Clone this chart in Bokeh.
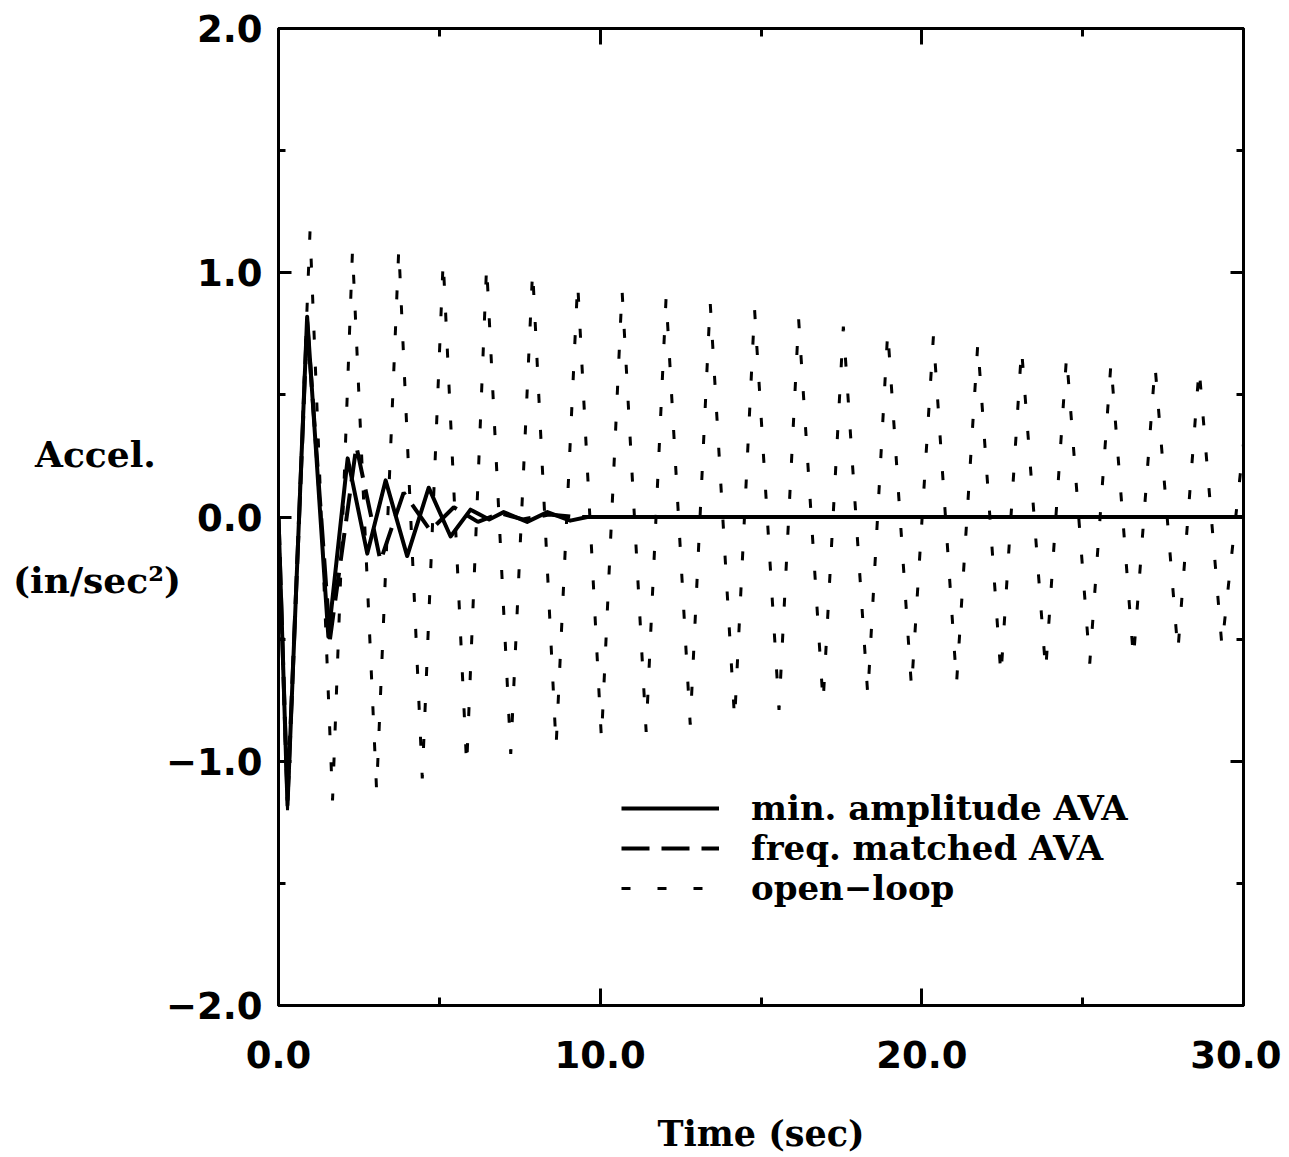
from bokeh.plotting import figure
from bokeh.models import Range1d, LinearAxis, FixedTicker, Legend, LegendItem
from bokeh.embed import file_html
from bokeh.resources import INLINE

# ---------------- data ----------------
# open-loop response: successive troughs / peaks
ol_t = [0.0, 0.28, 0.98, 1.68, 2.30, 3.05, 3.74, 4.47, 5.12, 5.85, 6.47, 7.22, 7.90,
        8.63, 9.30, 10.04, 10.68, 11.43, 12.05, 12.80, 13.42, 14.18, 14.80, 15.56,
        16.17, 16.93, 17.56, 18.32, 18.94, 19.68, 20.36, 21.08, 21.74, 22.46, 23.10,
        23.85, 24.50, 25.22, 25.88, 26.58, 27.25, 27.96, 28.62, 29.33, 30.0]
ol_v = [0.0, -1.20, 1.17, -1.16, 1.09, -1.12, 1.10, -1.07, 1.05, -1.02, 1.03, -0.97, 1.01,
        -0.94, 0.96, -0.91, 0.93, -0.88, 0.90, -0.85, 0.88, -0.83, 0.85, -0.79,
        0.81, -0.76, 0.78, -0.73, 0.76, -0.70, 0.74, -0.68, 0.71, -0.65, 0.69,
        -0.63, 0.66, -0.60, 0.63, -0.58, 0.62, -0.55, 0.61, -0.53, 0.30]

# min. amplitude AVA
ma_t = [0.0, 0.28, 0.89, 1.55, 2.15, 2.76, 3.33, 4.00, 4.67, 5.35, 5.97, 6.55, 7.00,
        7.73, 8.36, 9.07, 9.60, 30.0]
ma_v = [0.0, -1.18, 0.82, -0.49, 0.24, -0.15, 0.15, -0.16, 0.12, -0.08, 0.03, -0.01, 0.02,
        -0.02, 0.02, -0.015, 0.0, 0.0]

# freq. matched AVA
fm_t = [0.0, 0.28, 0.89, 1.60, 2.42, 3.17, 3.89, 4.72, 5.45, 6.20, 6.90, 7.60, 8.40,
        9.20, 10.0, 30.0]
fm_v = [0.0, -1.16, 0.80, -0.50, 0.29, -0.18, 0.10, -0.055, 0.04, -0.02, 0.015, -0.01, 0.01,
        0.0, 0.0, 0.0]

x_major = [0, 10, 20, 30]
x_minor = [5, 15, 25]
x_labels = ["0.0", "10.0", "20.0", "30.0"]
y_major = [-2, -1, 0, 1, 2]
y_minor = [-1.5, -0.5, 0.5, 1.5]
y_labels = ["\u22122.0", "\u22121.0", "0.0", "1.0", "2.0"]

series_names = ["min. amplitude AVA", "freq. matched AVA", "open\u2212loop"]
x_title = "Time (sec)"
y_title = "Accel.\u00a0\u00a0\n(in/sec\u00b2)"

# ---------------- figure ----------------
p = figure(width=1281, height=1157, output_backend="svg", toolbar_location=None,
           x_range=Range1d(0, 30), y_range=Range1d(-2, 2),
           min_border_left=278, min_border_right=38, min_border_top=28,
           min_border_bottom=152)
p.grid.visible = False
p.outline_line_color = "black"
p.outline_line_width = 3
p.background_fill_color = "white"
p.border_fill_color = "white"

TICK_FONT = "DejaVu Sans"
SERIF = "DejaVu Serif"


def style_axis(ax, labels=True):
    ax.axis_line_width = 3
    ax.axis_line_color = "black"
    ax.major_tick_line_width = 3
    ax.minor_tick_line_width = 3
    ax.major_tick_out = 0
    ax.minor_tick_out = 0
    ax.major_label_text_font = TICK_FONT
    ax.major_label_text_font_style = "bold"
    ax.major_label_text_color = "black"
    if labels:
        ax.major_label_text_font_size = "37px"
    else:
        ax.major_label_text_font_size = "0px"
        ax.major_label_text_alpha = 0


xt = FixedTicker(ticks=x_major, minor_ticks=x_minor)
yt = FixedTicker(ticks=y_major, minor_ticks=y_minor)

xax = p.xaxis[0]
xax.ticker = xt
style_axis(xax)
xax.major_tick_in = 17
xax.minor_tick_in = 8
xax.major_label_standoff = 35
xax.major_label_overrides = {v: s for v, s in zip(x_major, x_labels)}
xax.axis_label = x_title
xax.axis_label_text_font = SERIF
xax.axis_label_text_font_style = "bold"
xax.axis_label_text_font_size = "35px"
xax.axis_label_text_color = "black"
xax.axis_label_standoff = 42

yax = p.yaxis[0]
yax.ticker = yt
style_axis(yax)
yax.major_tick_in = 13
yax.minor_tick_in = 7
yax.major_label_standoff = 16
yax.major_label_overrides = {v: s for v, s in zip(y_major, y_labels)}
yax.axis_label = y_title
yax.axis_label_orientation = "horizontal"
yax.axis_label_text_font = SERIF
yax.axis_label_text_font_style = "bold"
yax.axis_label_text_font_size = "36px"
yax.axis_label_text_color = "black"
yax.axis_label_text_line_height = 3.0
yax.axis_label_standoff = -18

top = LinearAxis(ticker=FixedTicker(ticks=x_major, minor_ticks=x_minor))
style_axis(top, labels=False)
top.major_tick_in = 16
top.minor_tick_in = 8
p.add_layout(top, "above")

right = LinearAxis(ticker=FixedTicker(ticks=y_major, minor_ticks=y_minor))
style_axis(right, labels=False)
right.major_tick_in = 13
right.minor_tick_in = 7
p.add_layout(right, "right")

# ---------------- lines ----------------
r_ma = p.line(ma_t, ma_v, line_color="black", line_width=4, line_join="round")
r_fm = p.line(fm_t, fm_v, line_color="black", line_width=4, line_dash="28 12")
r_ol = p.line(ol_t, ol_v, line_color="black", line_width=3, line_dash="9 27")

# one legend per row so the rows can sit as close as in the original
rows = [(series_names[0], r_ma, 177), (series_names[1], r_fm, 137), (series_names[2], r_ol, 97)]
for name, rend, ypos in rows:
    lg = Legend(items=[LegendItem(label=name, renderers=[rend])], location=(343, ypos))
    lg.background_fill_alpha = 0
    lg.border_line_alpha = 0
    lg.padding = 0
    lg.margin = 0
    lg.spacing = 0
    lg.glyph_width = 98
    lg.glyph_height = 36
    lg.label_height = 36
    lg.label_standoff = 32
    lg.label_text_font = SERIF
    lg.label_text_font_style = "bold"
    lg.label_text_font_size = "34px"
    lg.label_text_color = "black"
    p.add_layout(lg)

open("out.html", "w").write(file_html(p, INLINE))
